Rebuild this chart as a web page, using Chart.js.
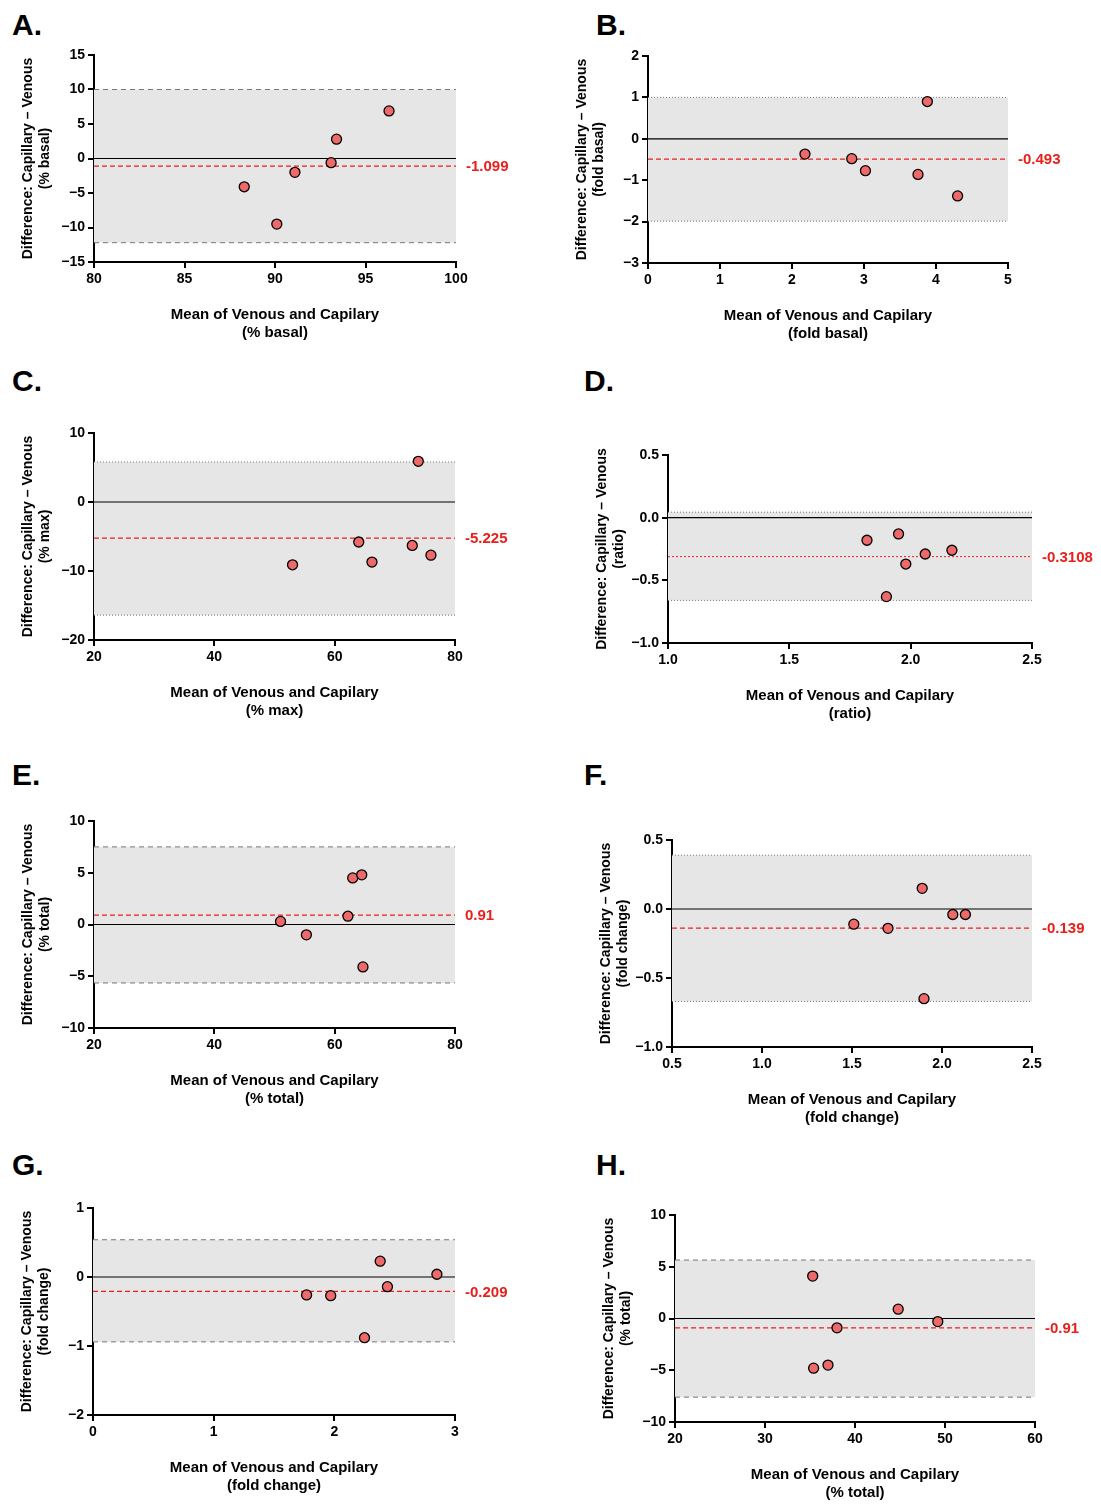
<!DOCTYPE html>
<html>
<head>
<meta charset="utf-8">
<script src="https://cdn.jsdelivr.net/npm/chart.js@4.4.0/dist/chart.umd.min.js"></script>
<style>
body { margin:0; background:#fff; width:1101px; height:1510px; position:relative; font-family:"Liberation Sans", Arial, sans-serif; }
canvas { position:absolute; }
.lbl { position:absolute; font-weight:bold; font-size:30px; color:#000; }
</style>
</head>
<body>
<div class="lbl" style="left:12px;top:8px">A.</div>
<div class="lbl" style="left:596px;top:8px">B.</div>
<div class="lbl" style="left:12px;top:364px">C.</div>
<div class="lbl" style="left:584px;top:364px">D.</div>
<div class="lbl" style="left:12px;top:758px">E.</div>
<div class="lbl" style="left:584px;top:758px">F.</div>
<div class="lbl" style="left:12px;top:1148px">G.</div>
<div class="lbl" style="left:596px;top:1148px">H.</div>
<script>
// 数据：每个面板的均值、差值
var aX = [88.3, 90.1, 91.1, 93.1, 93.4, 96.3];
var aY = [-4.1, -9.5, -2.0, -0.6, 2.8, 6.9];
var bX = [2.18, 2.83, 3.02, 3.75, 3.88, 4.3];
var bY = [-0.37, -0.48, -0.77, -0.86, 0.9, -1.38];
var cX = [53, 64, 66.2, 72.9, 73.9, 76];
var cY = [-9.1, -5.8, -8.7, -6.3, 5.9, -7.7];
var dX = [1.82, 1.95, 1.98, 1.9, 2.06, 2.17];
var dY = [-0.18, -0.13, -0.37, -0.63, -0.29, -0.26];
var eX = [51, 55.3, 62.2, 63, 64.5, 64.7];
var eY = [0.3, -1.0, 0.8, 4.5, 4.8, -4.1];
var fX = [1.51, 1.7, 1.89, 1.9, 2.06, 2.13];
var fY = [-0.11, -0.14, 0.15, -0.65, -0.04, -0.04];
var gX = [1.77, 1.97, 2.25, 2.38, 2.44, 2.85];
var gY = [-0.26, -0.27, -0.88, 0.23, -0.14, 0.04];
var hX = [35.3, 35.4, 37, 38, 44.8, 49.2];
var hY = [4.1, -4.8, -4.5, -0.9, 0.9, -0.3];
// 偏差、一致性界限
var biasVals = [-1.099, -0.493, -5.225, -0.3108, 0.91, -0.139, -0.209, -0.91];
var upperVals = [10.0, 1.0, 5.8, 0.044, 7.5, 0.39, 0.54, 5.65];
var lowerVals = [-12.2, -1.99, -16.4, -0.66, -5.65, -0.67, -0.94, -7.6];
var units = ["% basal", "fold basal", "% max", "ratio", "% total", "fold change", "fold change", "% total"];

var panels = [
    {x:aX, y:aY, box:[94,55,362,207], xr:[80,100,5], yr:[-15,15,5], xd:0, yd:0, edge:[5,4]},
    {x:bX, y:bY, box:[648,56,360,207], xr:[0,5,1], yr:[-3,2,1], xd:0, yd:0, edge:[1,2]},
    {x:cX, y:cY, box:[94,433,361,207], xr:[20,80,20], yr:[-20,10,10], xd:0, yd:0, edge:[1,2]},
    {x:dX, y:dY, box:[668,455,364,188], xr:[1,2.5,0.5], yr:[-1,0.5,0.5], xd:1, yd:1, edge:[1,2], thin:true},
    {x:eX, y:eY, box:[94,821,361,207], xr:[20,80,20], yr:[-10,10,5], xd:0, yd:0, edge:[5,4]},
    {x:fX, y:fY, box:[672,840,360,207], xr:[0.5,2.5,0.5], yr:[-1,0.5,0.5], xd:1, yd:1, edge:[1,2]},
    {x:gX, y:gY, box:[93,1208,362,207], xr:[0,3,1], yr:[-2,1,1], xd:0, yd:0, edge:[5,4]},
    {x:hX, y:hY, box:[675,1215,360,207], xr:[20,60,10], yr:[-10,10,5], xd:0, yd:0, edge:[5,4]}
];

var LEFT = 74, TOP = 15, RIGHT = 110, BOTTOM = 84;
var FONT = "'Liberation Sans', Arial, sans-serif";

function fmt(v, d) {
    var s = Math.abs(v).toFixed(d);
    return v < 0 ? "\u2212" + s : s;
}

//绘制灰色区域、均值线和零线
var bandPlugin = {
    id: 'band',
    beforeDatasetsDraw: function(chart) {
        var o = chart.options.plugins.band;
        var ctx = chart.ctx, a = chart.chartArea, ys = chart.scales.y;
        var yu = ys.getPixelForValue(o.upper), yl = ys.getPixelForValue(o.lower);
        var y0 = ys.getPixelForValue(0), yb = ys.getPixelForValue(o.bias);
        ctx.save();
        ctx.fillStyle = '#e6e6e6';
        ctx.fillRect(a.left, yu, a.right - a.left, yl - yu);
        ctx.strokeStyle = '#777';
        ctx.lineWidth = 1;
        ctx.setLineDash(o.edge);
        ctx.beginPath();
        ctx.moveTo(a.left, yu); ctx.lineTo(a.right, yu);
        ctx.moveTo(a.left, yl); ctx.lineTo(a.right, yl);
        ctx.stroke();
        ctx.setLineDash([]);
        ctx.strokeStyle = '#000';
        ctx.lineWidth = 1.2;
        ctx.beginPath(); ctx.moveTo(a.left, y0); ctx.lineTo(a.right, y0); ctx.stroke();
        ctx.strokeStyle = '#e8201c';
        ctx.lineWidth = o.thin ? 1 : 1.3;
        ctx.setLineDash(o.thin ? [2, 2] : [5, 3]);
        ctx.beginPath(); ctx.moveTo(a.left, yb); ctx.lineTo(a.right, yb); ctx.stroke();
        ctx.setLineDash([]);
        ctx.fillStyle = '#e8201c';
        ctx.font = 'bold 15px ' + FONT;
        ctx.textBaseline = 'middle';
        ctx.fillText(String(o.bias), a.right + 10, yb + 1);
        ctx.restore();
    }
};

panels.forEach(function(p, i) {
    var cv = document.createElement('canvas');
    var w = p.box[2] + LEFT + RIGHT, h = p.box[3] + TOP + BOTTOM;
    cv.style.left = (p.box[0] - LEFT) + 'px';
    cv.style.top = (p.box[1] - TOP) + 'px';
    cv.style.width = w + 'px';
    cv.style.height = h + 'px';
    cv.width = w; cv.height = h;
    document.body.appendChild(cv);
    var pts = p.x.map(function(v, k) { return {x: v, y: p.y[k]}; });
    var axisCommon = {
        border: {display: true, color: '#000', width: 2},
        grid: {drawOnChartArea: false, drawTicks: true, tickLength: 6, color: '#000', lineWidth: 2},
        ticks: {color: '#000', font: {family: FONT, size: 14, weight: 'bold'}}
    };
    new Chart(cv, {
        type: 'scatter',
        plugins: [bandPlugin],
        data: {
            datasets: [{
                data: pts,
                pointRadius: 5,
                pointBackgroundColor: '#ee6a6a',
                pointBorderColor: '#000',
                pointBorderWidth: 1.3
            }]
        },
        options: {
            responsive: false,
            animation: false,
            layout: {padding: {left: 0, top: TOP, right: RIGHT, bottom: 0}},
            plugins: {
                legend: {display: false},
                tooltip: {enabled: false},
                band: {bias: biasVals[i], upper: upperVals[i], lower: lowerVals[i], edge: p.edge, thin: p.thin}
            },
            scales: {
                x: Object.assign({}, axisCommon, {
                    type: 'linear', min: p.xr[0], max: p.xr[1],
                    afterFit: function(s) { s.height = BOTTOM; },
                    ticks: Object.assign({}, axisCommon.ticks, {stepSize: p.xr[2], callback: function(v) { return fmt(v, p.xd); }}),
                    title: {display: true, text: ['Mean of Venous and Capilary', '(' + units[i] + ')'], color: '#000',
                        font: {family: FONT, size: 15, weight: 'bold'}, padding: {top: 8}}
                }),
                y: Object.assign({}, axisCommon, {
                    type: 'linear', min: p.yr[0], max: p.yr[1],
                    afterFit: function(s) { s.width = LEFT; },
                    ticks: Object.assign({}, axisCommon.ticks, {stepSize: p.yr[2], callback: function(v) { return fmt(v, p.yd); }}),
                    title: {display: true, text: ['Difference: Capillary \u2013 Venous', '(' + units[i] + ')'], color: '#000',
                        font: {family: FONT, size: 14, weight: 'bold'}, padding: 0}
                })
            }
        }
    });
});
</script>
</body>
</html>
